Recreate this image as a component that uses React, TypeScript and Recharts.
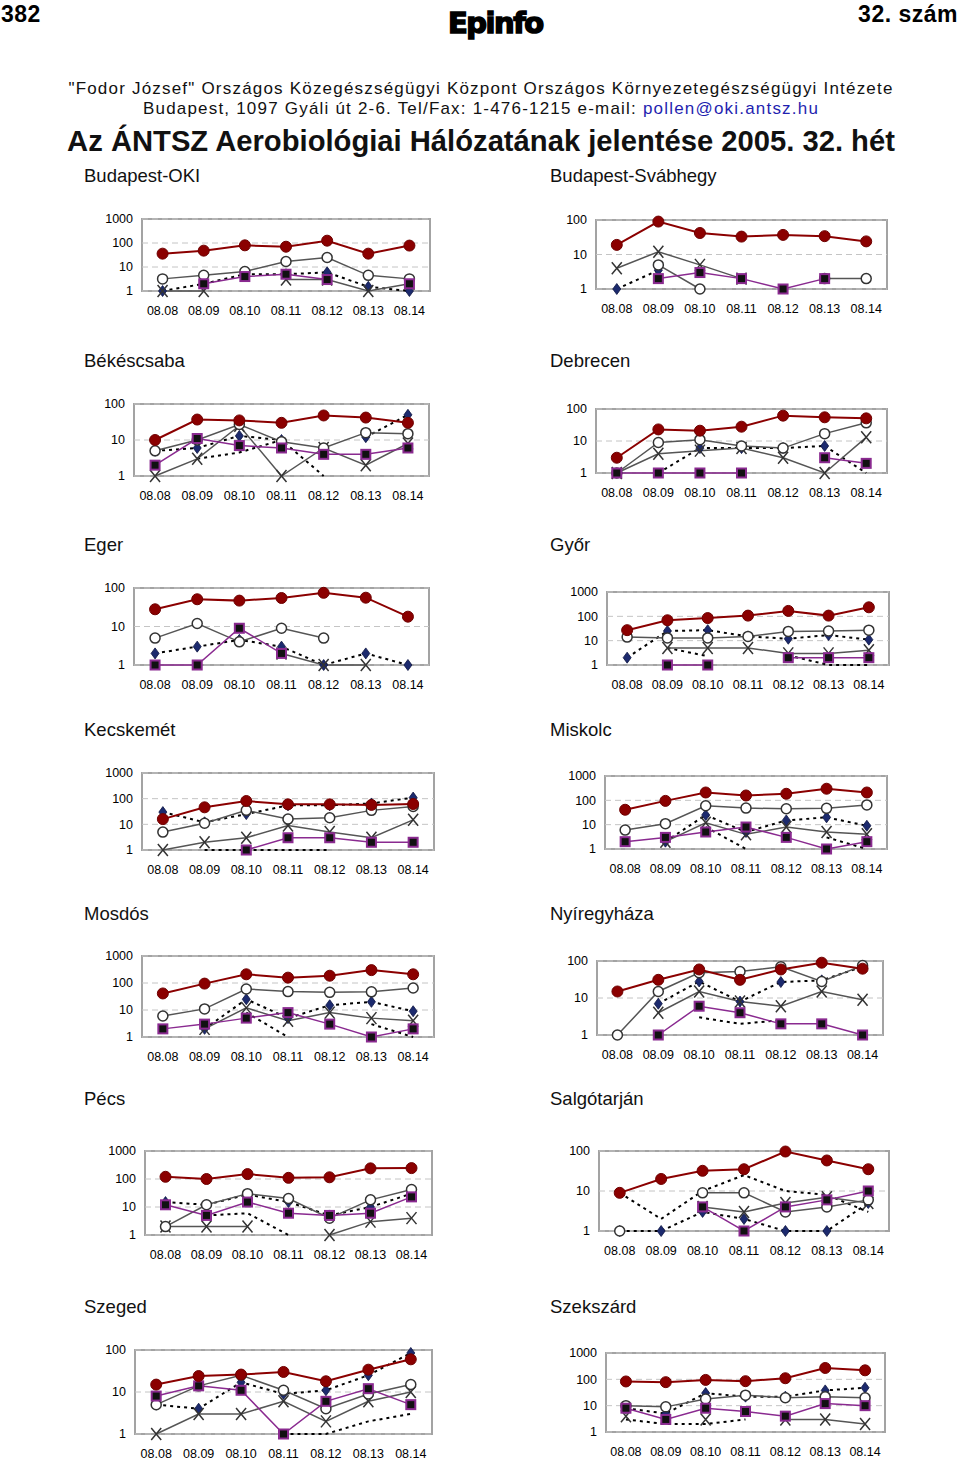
import React from 'react';
import { LineChart, Line, XAxis, YAxis, CartesianGrid } from 'recharts';

const N = null;
type V = number | null;

const dates = ['08.08', '08.09', '08.10', '08.11', '08.12', '08.13', '08.14'];

interface Station {
    name: string;
    max: number;
    red: V[];
    ring: V[];
    diamond: V[];
    square: V[];
    cross: V[];
    dotted: V[];
}

const budapestOki: Station = {
    name: 'Budapest-OKI', max: 1000,
    red: [36, 48, 80, 70, 125, 36, 78],
    ring: [3.2, 4.5, 6.5, 17, 25, 4.5, 3.2],
    diamond: [1, 2, 5, 5, 6, 1.5, 1],
    square: [N, 2, 4, 5, 3, N, 2],
    cross: [1, 1, N, 3, 3, 1, 2],
    dotted: [N, N, N, N, N, N, N],
};

const budapestSvab: Station = {
    name: 'Budapest-Svábhegy', max: 100,
    red: [19, 90, 42, 33, 37, 34, 24],
    ring: [N, 5, 1, N, N, 2, 2],
    diamond: [1, 3.5, N, N, N, N, N],
    square: [N, 2, 3, 2, 1, 2, N],
    cross: [4, 12, 5, 2, N, N, N],
    dotted: [N, N, N, N, N, N, N],
};

const bekescsaba: Station = {
    name: 'Békéscsaba', max: 100,
    red: [10, 37, 35, 30, 48, 42, 30],
    ring: [5, 10, 27, 9, 6, 16, 15],
    diamond: [5, 6, 13, 10, N, 12, 50],
    square: [2, 11, 7, 6, 4, 4, 6],
    cross: [1, 3, 25, 1, 6, 2, 8],
    dotted: [N, 3, 4.5, 10, 1, N, N],
};

const debrecen: Station = {
    name: 'Debrecen', max: 100,
    red: [3, 23, 21, 28, 62, 55, 51],
    ring: [1, 9, 11, 7, 6, 17, 37],
    diamond: [N, N, 6, 6, 6, 7, N],
    square: [1, 1, 1, 1, N, 3, 2],
    cross: [1, 4, 5, 6, 3, 1, 13],
    dotted: [N, 1, 6, N, N, 7, 1],
};

const eger: Station = {
    name: 'Eger', max: 100,
    red: [28, 51, 47, 55, 75, 56, 18],
    ring: [5, 12, 4, 9, 5, N, N],
    diamond: [2, 3, 4.5, 3, 1, 2, 1],
    square: [1, 1, 9, 2, N, N, N],
    cross: [N, N, N, 2, 1, 1, N],
    dotted: [N, N, N, N, N, N, N],
};

const gyor: Station = {
    name: 'Győr', max: 1000,
    red: [27, 69, 85, 107, 167, 107, 235],
    ring: [14, 13, 13, 15, 24, 25, 27],
    diamond: [2, 25, 27, 15, 12, 17, 11],
    square: [N, 1, 1, N, 2, 2, 2],
    cross: [N, 5, 5, 5, 3, 3, 4],
    dotted: [N, 5, 2.3, N, 2.5, 1, 1],
};

const kecskemet: Station = {
    name: 'Kecskemét', max: 1000,
    red: [16, 46, 81, 60, 60, 57, 62],
    ring: [5, 11, 35, 16, 18, 35, 50],
    diamond: [30, 12, 25, 55, 55, 65, 110],
    square: [N, N, 1, 3, 3, 2, 2],
    cross: [1, 2, 3, 9, 5, 3, 15],
    dotted: [N, 1, 1, 1, 1, N, N],
};

const miskolc: Station = {
    name: 'Miskolc', max: 1000,
    red: [41, 95, 210, 158, 186, 300, 210],
    ring: [6, 11, 60, 48, 45, 47, 65],
    diamond: [N, 2, 25, 5, 15, 20, 9],
    square: [2, 3, 5, 8, 3, 1, 2],
    cross: [N, 2, 12, 4, 8, 5, 4],
    dotted: [N, N, 8, 1, N, 3, 1],
};

const mosdos: Station = {
    name: 'Mosdós', max: 1000,
    red: [41, 95, 210, 158, 186, 300, 210],
    ring: [6, 11, 60, 48, 45, 47, 65],
    diamond: [N, 2, 25, 5, 15, 20, 9],
    square: [2, 3, 5, 8, 3, 1, 2],
    cross: [N, 2, 12, 4, 8, 5, 4],
    dotted: [N, N, 8, 1, N, 3, 1],
};

const nyiregyhaza: Station = {
    name: 'Nyíregyháza', max: 100,
    red: [15, 31, 59, 31, 59, 90, 62],
    ring: [1, 15, 48, 52, 70, 28, 75],
    diamond: [N, 7, 28, 8, 27, 30, 70],
    square: [N, 1, 6, 4, 2, 2, 1],
    cross: [N, 4, 15, 8, 6, 15, 9],
    dotted: [N, N, 3, 2, 2.5, N, N],
};

const pecs: Station = {
    name: 'Pécs', max: 1000,
    red: [120, 100, 150, 110, 115, 240, 245],
    ring: [2, 12, 30, 20, 4, 18, 42],
    diamond: [15, 12, 28, 15, 5, 10, 30],
    square: [12, 5, 15, 6, 5, 6, 23],
    cross: [2, 2, 2, N, 1, 3, 4],
    dotted: [N, 5, 6, 1, N, N, N],
};

const salgotarjan: Station = {
    name: 'Salgótarján', max: 100,
    red: [9, 20, 32, 35, 97, 58, 35],
    ring: [1, N, 9, 9, 3, 4, 6],
    diamond: [1, 1, 3, 2, 1, 1, 5],
    square: [N, N, 4, 1, 4, 6, 10],
    cross: [N, N, 4, 3, 5, 7, 5],
    dotted: [9, 2, 10, 25, 10, 8, 3],
};

const szeged: Station = {
    name: 'Szeged', max: 100,
    red: [15, 24, 26, 30, 18, 34, 60],
    ring: [5, 14, 25, 11, 4, 9, 15],
    diamond: [5, 4, 17, 9, 11, 25, 85],
    square: [8, 14, 11, 1, 6, 12, 5],
    cross: [1, 3, 3, 6, 2, 6, 10],
    dotted: [N, N, N, 1, 1, 2, 3],
};

const szekszard: Station = {
    name: 'Szekszárd', max: 1000,
    red: [83, 78, 95, 85, 110, 270, 220],
    ring: [10, 9, 18, 25, 20, 22, 20],
    diamond: [8, 5, 30, 22, 22, 38, 48],
    square: [8, 3, 8, 6, 4, 12, 10],
    cross: [4, N, 3, N, 3, 3, 2],
    dotted: [3, 2, 2, 3, N, N, 1],
};

// plot boxes (page pixels) and title positions
const panels = [
    { st: budapestOki, l: 142, r: 430, t: 219, b: 291, tx: 84, ty: 176 },
    { st: budapestSvab, l: 596, r: 887, t: 220, b: 289, tx: 550, ty: 176 },
    { st: bekescsaba, l: 134, r: 429, t: 404, b: 476, tx: 84, ty: 361 },
    { st: debrecen, l: 596, r: 887, t: 409, b: 473, tx: 550, ty: 361 },
    { st: eger, l: 134, r: 429, t: 588, b: 665, tx: 84, ty: 545 },
    { st: gyor, l: 607, r: 889, t: 592, b: 665, tx: 550, ty: 545 },
    { st: kecskemet, l: 142, r: 434, t: 773, b: 850, tx: 84, ty: 730 },
    { st: miskolc, l: 605, r: 887, t: 776, b: 849, tx: 550, ty: 730 },
    { st: mosdos, l: 142, r: 434, t: 956, b: 1037, tx: 84, ty: 914 },
    { st: nyiregyhaza, l: 597, r: 883, t: 961, b: 1035, tx: 550, ty: 914 },
    { st: pecs, l: 145, r: 432, t: 1151, b: 1235, tx: 84, ty: 1099 },
    { st: salgotarjan, l: 599, r: 889, t: 1151, b: 1231, tx: 550, ty: 1099 },
    { st: szeged, l: 135, r: 432, t: 1350, b: 1434, tx: 84, ty: 1307 },
    { st: szekszard, l: 606, r: 885, t: 1353, b: 1432, tx: 550, ty: 1307 },
];

const FONT = '"Liberation Sans", Arial, sans-serif';

const marker = (kind: string, key: string) => (p: any) => {
    const { cx, cy, index, payload } = p;
    const v = payload ? payload[key] : null;
    if (v == null || cx == null || cy == null) return <g key={index} />;
    if (kind === 'red') {
        return <circle key={index} cx={cx} cy={cy} r={5.5} fill="#8b0000" stroke="#6e0000" strokeWidth={1} />;
    }
    if (kind === 'ring') {
        return <circle key={index} cx={cx} cy={cy} r={5} fill="#fff" stroke="#333" strokeWidth={1.5} />;
    }
    if (kind === 'diamond') {
        return (
            <path key={index} d={`M${cx},${cy - 5.5}L${cx + 4},${cy}L${cx},${cy + 5.5}L${cx - 4},${cy}Z`}
                fill="#1c2a6e" stroke="#0d1440" strokeWidth={0.8} />
        );
    }
    if (kind === 'square') {
        return <rect key={index} x={cx - 4.5} y={cy - 4.5} width={9} height={9} fill="#111" stroke="#8a2a90" strokeWidth={2} />;
    }
    if (kind === 'cross') {
        return (
            <path key={index} d={`M${cx - 5},${cy - 6}L${cx + 5},${cy + 6}M${cx + 5},${cy - 6}L${cx - 5},${cy + 6}`}
                stroke="#333" strokeWidth={1.5} fill="none" />
        );
    }
    return <g key={index} />;
};

function Panel({ p }: { p: typeof panels[number] }) {
    const { st } = p;
    const w = p.r - p.l;
    const h = p.b - p.t;
    const band = w / 7;
    const ticks = st.max === 1000 ? [1, 10, 100, 1000] : [1, 10, 100];
    const rows = dates.map((d, i) => ({
        d,
        red: st.red[i],
        ring: st.ring[i],
        diamond: st.diamond[i],
        square: st.square[i],
        cross: st.cross[i],
        dotted: st.dotted[i],
    }));
    return (
        <>
            <div style={{ position: 'absolute', left: p.tx, top: p.ty - 11, fontSize: 18.5, fontFamily: FONT, color: '#111', whiteSpace: 'nowrap' }}>
                {st.name}
            </div>
            <div style={{
                position: 'absolute', left: p.l - 1, top: p.t - 1, width: w + 2, height: h + 2,
                border: '2px solid #a3a3a3', boxSizing: 'border-box',
            }} />
            <div style={{ position: 'absolute', left: p.l - 60, top: p.t - 10 }}>
                <LineChart width={w + 70} height={h + 50} data={rows} margin={{ top: 10, right: 10, left: 0, bottom: 0 }}>
                    <CartesianGrid vertical={false} stroke="#c4c4c4" strokeDasharray="6 4" />
                    <XAxis dataKey="d" height={40} interval={0} tickLine={false} axisLine={false} tickMargin={9}
                        padding={{ left: band / 2, right: band / 2 }}
                        tick={{ fontSize: 12.5, fill: '#000', fontFamily: FONT }} />
                    <YAxis type="number" scale="log" domain={[1, st.max]} ticks={ticks} width={60}
                        tickLine={false} axisLine={false} tickMargin={3}
                        tick={{ fontSize: 12.5, fill: '#000', fontFamily: FONT }} />
                    <Line dataKey="dotted" stroke="#000" strokeWidth={2} strokeDasharray="3 4" dot={false} activeDot={false} isAnimationActive={false} />
                    <Line dataKey="diamond" stroke="#000" strokeWidth={2} strokeDasharray="3 4" dot={marker('diamond', 'diamond')} activeDot={false} isAnimationActive={false} />
                    <Line dataKey="cross" stroke="#555" strokeWidth={1.5} dot={marker('cross', 'cross')} activeDot={false} isAnimationActive={false} />
                    <Line dataKey="ring" stroke="#555" strokeWidth={1.5} dot={marker('ring', 'ring')} activeDot={false} isAnimationActive={false} />
                    <Line dataKey="square" stroke="#8a2a90" strokeWidth={1.5} dot={marker('square', 'square')} activeDot={false} isAnimationActive={false} />
                    <Line dataKey="red" stroke="#8b0000" strokeWidth={2} dot={marker('red', 'red')} activeDot={false} isAnimationActive={false} />
                </LineChart>
            </div>
        </>
    );
}

export default function App() {
    return (
        <div style={{ position: 'absolute', left: 0, top: 0, width: 960, height: 1461, background: '#fff', fontFamily: FONT, overflow: 'hidden' }}>
            <div style={{ position: 'absolute', left: 1, top: 1, fontSize: 23, fontWeight: 'bold', letterSpacing: 0.5 }}>382</div>
            <div style={{
                position: 'absolute', left: 448, top: 6, fontSize: 29, fontWeight: 900,
                fontFamily: '"DejaVu Sans", sans-serif', letterSpacing: -1.5, WebkitTextStroke: '1.5px #000',
            }}>Epinfo</div>
            <div style={{ position: 'absolute', right: 2, top: 1, fontSize: 23, fontWeight: 'bold', letterSpacing: 0.5 }}>32. szám</div>
            <div style={{ position: 'absolute', left: 0, width: 962, top: 79, textAlign: 'center', fontSize: 17, color: '#111', letterSpacing: 1.2, lineHeight: '20px' }}>
                "Fodor József" Országos Közegészségügyi Központ Országos Környezetegészségügyi Intézete<br />
                Budapest, 1097 Gyáli út 2-6. Tel/Fax: 1-476-1215 e-mail: <span style={{ color: '#1f1fb0' }}>pollen@oki.antsz.hu</span>
            </div>
            <div style={{ position: 'absolute', left: 0, width: 962, top: 125, textAlign: 'center', fontSize: 29.2, fontWeight: 'bold', color: '#111' }}>
                Az ÁNTSZ Aerobiológiai Hálózatának jelentése 2005. 32. hét
            </div>
            {panels.map((p) => <Panel key={p.st.name} p={p} />)}
        </div>
    );
}
